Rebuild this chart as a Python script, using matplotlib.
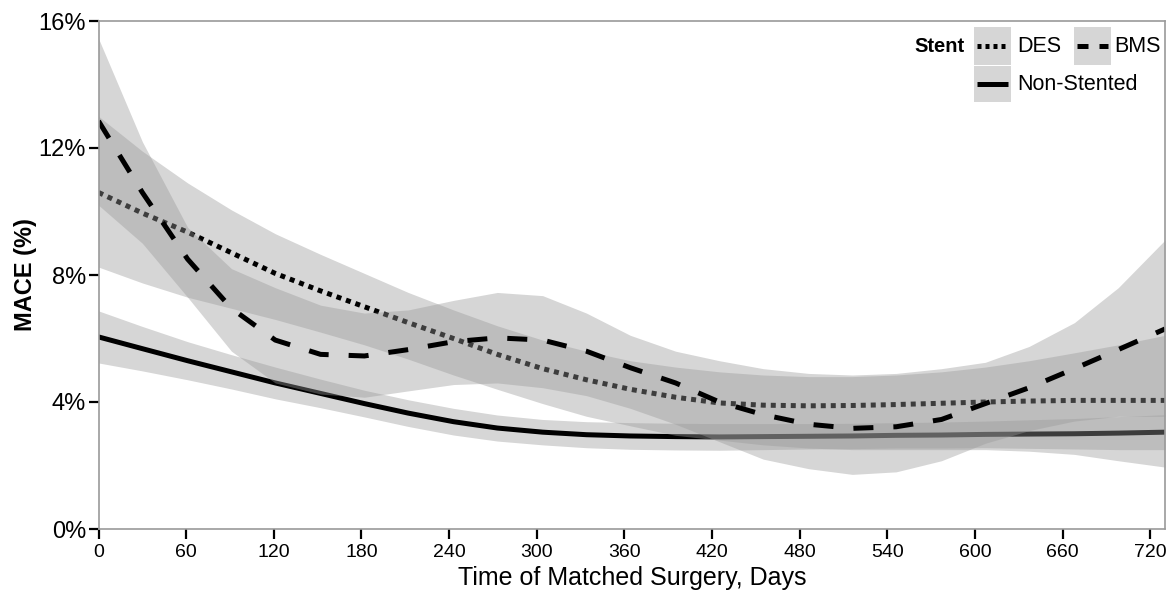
import matplotlib
matplotlib.use("Agg")
import matplotlib.pyplot as plt
from matplotlib.patches import Rectangle
from matplotlib.lines import Line2D

plt.rcParams['font.family'] = ['Liberation Sans', 'DejaVu Sans']

days = [0, 30, 61, 91, 121, 152, 182, 212, 243, 273, 304, 334, 364,
        395, 425, 455, 486, 516, 546, 577, 607, 637, 668, 698, 730]

bms_fit = [12.85, 10.6, 8.5, 6.95, 5.95, 5.5, 5.45, 5.65, 5.9, 6.02, 5.95, 5.6, 5.08,
           4.6, 4.0, 3.6, 3.3, 3.17, 3.22, 3.45, 3.95, 4.45, 5.05, 5.65, 6.3]
bms_hi = [15.45, 12.2, 9.5, 8.2, 7.6, 7.05, 6.8, 6.9, 7.2, 7.45, 7.35, 6.8, 6.1,
          5.6, 5.3, 5.05, 4.9, 4.85, 4.9, 5.05, 5.25, 5.75, 6.5, 7.6, 9.1]
bms_lo = [10.2, 9.0, 7.3, 5.6, 4.6, 4.25, 4.15, 4.35, 4.55, 4.6, 4.45, 4.2, 3.8,
          3.3, 2.75, 2.2, 1.9, 1.72, 1.8, 2.15, 2.7, 3.1, 3.4, 3.55, 3.55]

des_fit = [10.6, 9.95, 9.35, 8.7, 8.05, 7.5, 7.0, 6.5, 6.0, 5.5, 5.05, 4.7, 4.4,
           4.15, 3.97, 3.9, 3.88, 3.89, 3.92, 3.96, 4.0, 4.03, 4.05, 4.05, 4.05]
des_hi = [13.0, 11.9, 10.9, 10.05, 9.3, 8.65, 8.05, 7.45, 6.9, 6.4, 5.95, 5.6, 5.3,
          5.1, 4.95, 4.85, 4.8, 4.8, 4.85, 4.95, 5.1, 5.3, 5.55, 5.8, 6.1]
des_lo = [8.25, 7.75, 7.3, 6.95, 6.6, 6.2, 5.8, 5.35, 4.85, 4.4, 3.95, 3.55, 3.25,
          2.95, 2.8, 2.65, 2.55, 2.5, 2.5, 2.5, 2.5, 2.45, 2.35, 2.15, 1.95]

ns_fit = [6.05, 5.68, 5.3, 4.95, 4.6, 4.27, 3.95, 3.65, 3.38, 3.18, 3.05, 2.97, 2.93,
          2.91, 2.9, 2.91, 2.92, 2.93, 2.95, 2.96, 2.98, 2.99, 3.0, 3.02, 3.05]
ns_hi = [6.87, 6.38, 5.9, 5.49, 5.1, 4.72, 4.37, 4.07, 3.8, 3.59, 3.45, 3.38, 3.35,
         3.33, 3.32, 3.32, 3.32, 3.33, 3.35, 3.37, 3.40, 3.44, 3.48, 3.54, 3.60]
ns_lo = [5.23, 4.98, 4.70, 4.41, 4.10, 3.82, 3.53, 3.23, 2.96, 2.77, 2.65, 2.56, 2.51,
         2.49, 2.48, 2.50, 2.52, 2.53, 2.55, 2.55, 2.56, 2.54, 2.52, 2.50, 2.50]

x_ticks = list(range(0, 721, 60))
y_ticks = [0, 4, 8, 12, 16]
y_ticklabels = ["0%", "4%", "8%", "12%", "16%"]

W, H = 1176, 599
L, R, T, B = 98.5, 1165, 21, 529
fig = plt.figure(figsize=(W / 100, H / 100), dpi=100)
ax = fig.add_axes([L / W, (H - B) / H, (R - L) / W, (B - T) / H])

FILL = "#999999"
ALPHA = 0.4
LW = 3.6
styles = {
    "Non-Stented": dict(linestyle="-"),
    "DES": dict(linestyle=(0, (1, 1))),
    "BMS": dict(linestyle=(0, (4, 4))),
}

series = [
    ("Non-Stented", ns_fit, ns_lo, ns_hi),
    ("DES", des_fit, des_lo, des_hi),
    ("BMS", bms_fit, bms_lo, bms_hi),
]
for i, (name, fit, lo, hi) in enumerate(series):
    ax.fill_between(days, lo, hi, color=FILL, alpha=ALPHA, linewidth=0, zorder=2 + 2 * i)
    ax.plot(days, fit, color="black", linewidth=LW, solid_capstyle="butt",
            dash_capstyle="butt", zorder=3 + 2 * i, **styles[name])

ax.set_xlim(0, 730)
ax.set_ylim(0, 16)
ax.set_xticks(x_ticks)
ax.set_xticklabels([str(t) for t in x_ticks], fontsize=14)
ax.set_yticks(y_ticks)
ax.set_yticklabels(y_ticklabels, fontsize=17)
ax.tick_params(axis="both", direction="out", length=7, width=1.6, color="black")
ax.tick_params(axis="x", pad=4)
ax.tick_params(axis="y", pad=2)
for s in ax.spines.values():
    s.set_color("#9a9a9a")
    s.set_linewidth(1.2)
    s.set_zorder(20)
ax.set_xlabel("Time of Matched Surgery, Days", fontsize=18, va="top")
ax.xaxis.set_label_coords(0.5, (B - 566) / (B - T))
ax.set_ylabel("MACE (%)", fontsize=17, fontweight="bold", va="bottom")
ax.yaxis.set_label_coords((37 - L) / (R - L), 0.5)

# legend drawn in figure pixel coordinates
def fx(px):
    return px / W

def fy(py):
    return (H - py) / H

def key(x0, y0, y1, ls):
    w = 37
    fig.patches.append(Rectangle((fx(x0), fy(y1)), w / W, (y1 - y0) / H, transform=fig.transFigure,
                                 facecolor=FILL, alpha=ALPHA, edgecolor="none", zorder=5))
    fig.lines.append(Line2D([fx(x0 + 3), fx(x0 + w - 3)], [fy((y0 + y1) / 2)] * 2,
                            transform=fig.transFigure, color="black", linewidth=LW,
                            solid_capstyle="butt", dash_capstyle="butt", zorder=6, **ls))

key(974, 27, 65, dict(linestyle=(0, (0.8, 0.8))))
key(1074, 27, 65, dict(linestyle=(0, (2.2, 2.2))))
key(974, 66, 102, styles["Non-Stented"])
fig.text(fx(965), fy(46), "Stent", fontsize=14.5, fontweight="bold", ha="right", va="center")
fig.text(fx(1017), fy(46), "DES", fontsize=15.5, ha="left", va="center")
fig.text(fx(1114), fy(46), "BMS", fontsize=15.5, ha="left", va="center")
fig.text(fx(1017), fy(84), "Non-Stented", fontsize=15.5, ha="left", va="center")

fig.savefig("out.png", dpi=100, facecolor="white")
